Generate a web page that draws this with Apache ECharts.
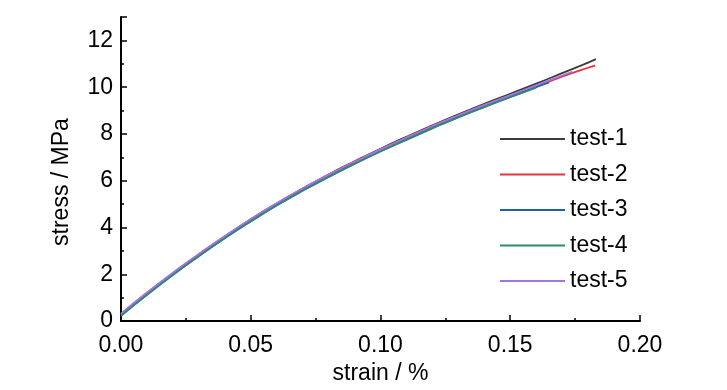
<!DOCTYPE html>
<html>
<head>
<meta charset="utf-8">
<script src="https://cdn.jsdelivr.net/npm/echarts@6/dist/echarts.min.js"></script>
<style>html,body{margin:0;padding:0;background:#fff}#c{width:727px;height:390px}</style>
</head>
<body>
<div id="c"></div>
<script>
const seriesNames = ['test-1','test-2','test-3','test-4','test-5'];
const colors = ['#3c3c3c','#e8323e','#1f5fae','#2e8b6b','#a274e6'];

const strain1 = [0,0.01,0.02,0.03,0.04,0.05,0.06,0.07,0.08,0.09,0.10,0.11,0.12,0.13,0.14,0.15,0.16,0.17,0.18,0.183];
const stress1 = [0.3,1.2,2.05,2.85,3.62,4.35,5.03,5.67,6.27,6.83,7.37,7.88,8.37,8.84,9.29,9.72,10.15,10.6,11.05,11.2];

const strain2 = [0,0.01,0.02,0.03,0.04,0.05,0.06,0.07,0.08,0.09,0.10,0.11,0.12,0.13,0.14,0.15,0.16,0.17,0.18,0.1827];
const stress2 = [0.28,1.18,2.03,2.83,3.6,4.33,5.01,5.65,6.25,6.81,7.34,7.84,8.32,8.78,9.21,9.62,10.03,10.45,10.83,10.92];

const strain3 = [0,0.01,0.02,0.03,0.04,0.05,0.06,0.07,0.08,0.09,0.10,0.11,0.12,0.13,0.14,0.15,0.16,0.165];
const stress3 = [0.25,1.13,1.98,2.78,3.55,4.27,4.95,5.58,6.17,6.73,7.26,7.76,8.25,8.72,9.16,9.58,10.0,10.2];

const strain4 = [0,0.01,0.02,0.03,0.04,0.05,0.06,0.07,0.08,0.09,0.10,0.11,0.12,0.13,0.14,0.15,0.16];
const stress4 = [0.22,1.12,1.97,2.77,3.54,4.26,4.94,5.57,6.16,6.72,7.25,7.75,8.24,8.71,9.15,9.57,9.98];

const strain5 = [0,0.01,0.02,0.03,0.04,0.05,0.06,0.07,0.08,0.09,0.10,0.11,0.12,0.13,0.14,0.15,0.16,0.17,0.174];
const stress5 = [0.32,1.22,2.07,2.87,3.64,4.36,5.04,5.67,6.26,6.81,7.34,7.85,8.34,8.8,9.24,9.66,10.08,10.5,10.66];

const strains = [strain1,strain2,strain3,strain4,strain5];
const stresses = [stress1,stress2,stress3,stress4,stress5];

const FONT = "'Liberation Sans', Arial, sans-serif";
const FS = 23;
const chart = echarts.init(document.getElementById('c'));
chart.setOption({
  animation: false,
  backgroundColor: '#fff',
  grid: { left: 121, right: 87, top: 17, bottom: 62 },
  legend: {
    orient: 'vertical', left: 495, top: 122,
    icon: 'rect', itemWidth: 65, itemHeight: 2, itemGap: 11.5,
    textStyle: { fontFamily: FONT, fontSize: FS, color: '#000', lineHeight: 24 },
    data: seriesNames
  },
  xAxis: {
    type: 'value', min: 0, max: 0.2, interval: 0.05,
    name: 'strain / %', nameLocation: 'middle', nameGap: 37,
    nameTextStyle: { fontFamily: FONT, fontSize: FS, color: '#000' },
    axisLine: { lineStyle: { color: '#000', width: 2 } },
    axisTick: { inside: true, length: 6, lineStyle: { color: '#000', width: 1.5 } },
    minorTick: { show: true, splitNumber: 2, length: 3, lineStyle: { color: '#000', width: 1.5 } },
    axisLabel: { fontFamily: FONT, fontSize: FS, color: '#000', margin: 13, formatter: v => v.toFixed(2) },
    splitLine: { show: false }
  },
  yAxis: {
    type: 'value', min: 0, max: 13, interval: 2,
    name: 'stress / MPa', nameLocation: 'middle', nameGap: 48,
    nameTextStyle: { fontFamily: FONT, fontSize: FS, color: '#000', padding: [0, 26, 0, 0] },
    axisLine: { show: true, lineStyle: { color: '#000', width: 2 } },
    axisTick: { show: true, inside: true, length: 6, lineStyle: { color: '#000', width: 1.5 } },
    minorTick: { show: true, splitNumber: 2, length: 3, lineStyle: { color: '#000', width: 1.5 } },
    axisLabel: { fontFamily: FONT, fontSize: FS, color: '#000', margin: 8, showMaxLabel: false },
    splitLine: { show: false }
  },
  series: seriesNames.map((n, i) => ({
    name: n, type: 'line', showSymbol: false, symbol: 'none', smooth: true,
    lineStyle: { color: colors[i], width: 1.8 },
    itemStyle: { color: colors[i] },
    data: strains[i].map((x, j) => [x, stresses[i][j]])
  }))
});
</script>
</body>
</html>
